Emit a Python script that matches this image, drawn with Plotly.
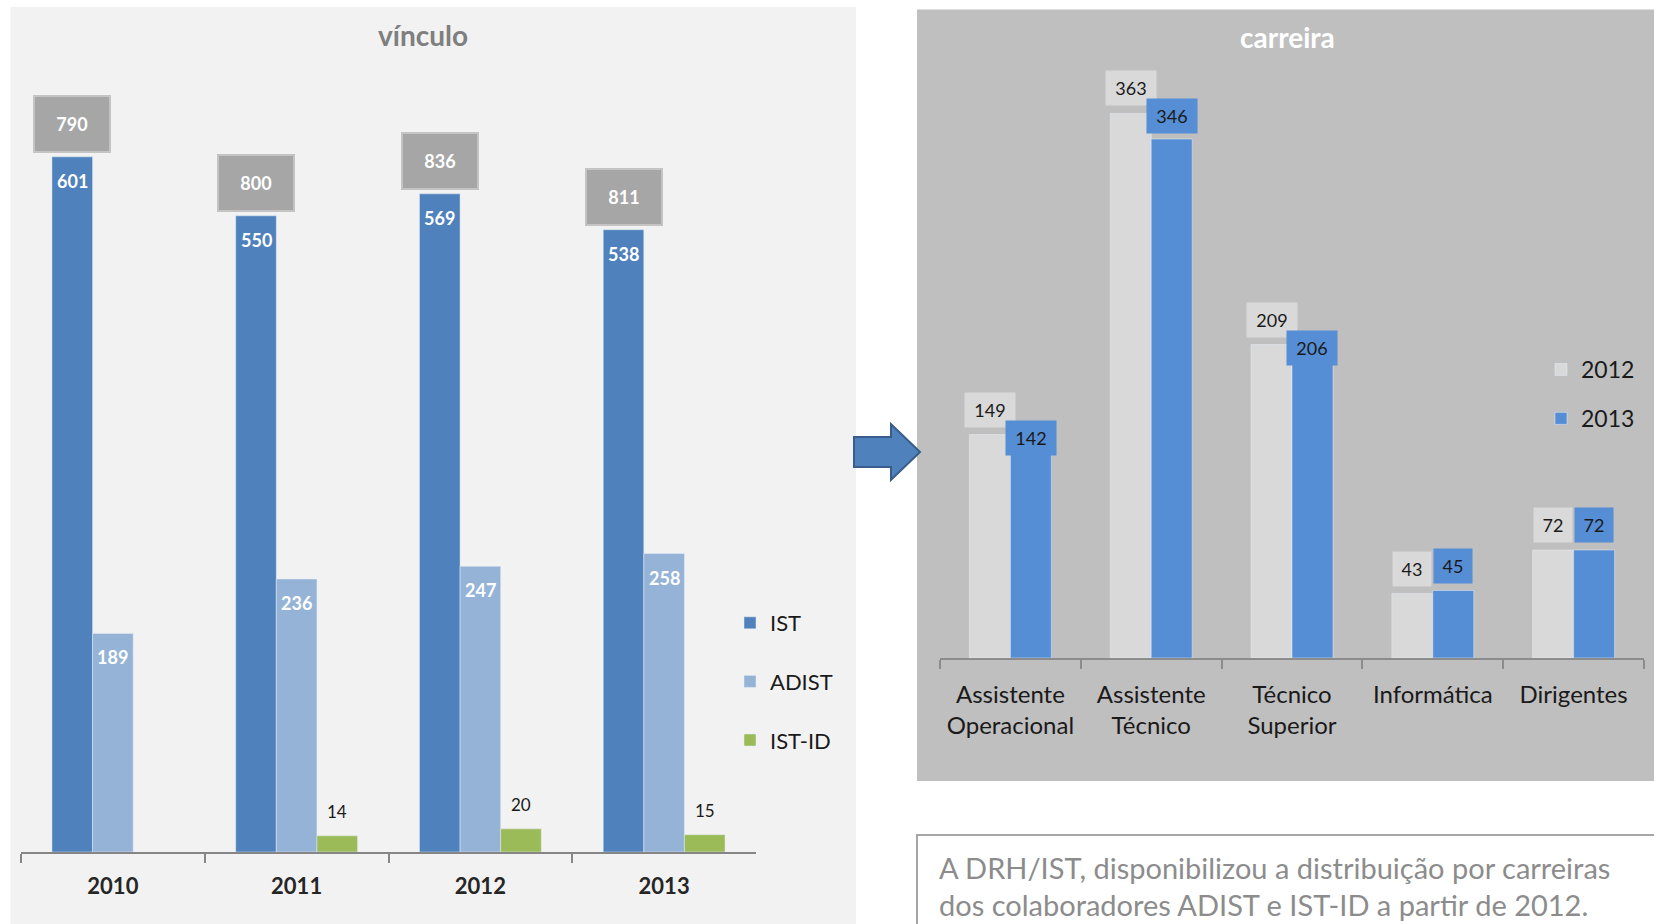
import plotly.graph_objects as go

W, H = 1654, 924

# ---------------- data ----------------
years = ["2010", "2011", "2012", "2013"]
ist = [601, 550, 569, 538]
adist = [189, 236, 247, 258]
istid = [None, 14, 20, 15]
totals = [790, 800, 836, 811]

carreiras = ["Assistente<br>Operacional", "Assistente<br>Técnico", "Técnico<br>Superior",
             "Informática", "Dirigentes"]
c2012 = [149, 363, 209, 43, 72]
c2013 = [142, 346, 206, 45, 72]

# ---------------- helpers / style ----------------
def px(x):
    return x / W


def py(y):
    return 1 - y / H


FONT = "Lato, 'Open Sans', sans-serif"
C_IST, C_ADIST, C_ISTID = "#4f81bd", "#95b3d7", "#9bbb59"
C_12, C_13 = "#d9d9d9", "#558ed5"

wl = 0.221  # bar width (category units) left chart
wr = 0.291  # bar width right chart

# right axis geometry (pixels) used for label collision nudging
R_BASE, R_TOP, R_MAX = 658, 40, 412
R_SCALE = (R_BASE - R_TOP) / R_MAX
LBL_GAP, LBL_H = 7, 34

fig = go.Figure()

# left chart bars
fig.add_trace(go.Bar(x=years, y=ist, name="IST", marker_color=C_IST, width=wl, offset=-1.5 * wl,
                     xaxis="x", yaxis="y", legend="legend", legendgroup="a", hoverinfo="y"))
fig.add_trace(go.Bar(x=years, y=adist, name="ADIST", marker_color=C_ADIST, width=wl, offset=-0.5 * wl,
                     xaxis="x", yaxis="y", legend="legend", legendgroup="b", hoverinfo="y"))
fig.add_trace(go.Bar(x=years, y=istid, name="IST-ID", marker_color=C_ISTID, width=wl, offset=0.5 * wl,
                     xaxis="x", yaxis="y", legend="legend", legendgroup="c", hoverinfo="y"))

# right chart bars
fig.add_trace(go.Bar(x=carreiras, y=c2012, name="2012", marker_color=C_12, width=wr, offset=-wr,
                     xaxis="x2", yaxis="y2", legend="legend2", legendgroup="d", hoverinfo="y"))
fig.add_trace(go.Bar(x=carreiras, y=c2013, name="2013", marker_color=C_13, width=wr, offset=0,
                     xaxis="x2", yaxis="y2", legend="legend2", legendgroup="e", hoverinfo="y"))

ann = []
# left labels
for i, v in enumerate(ist):
    ann.append(dict(x=i - wl, y=v, xref="x", yref="y", text=f"<b>{v}</b>", showarrow=False,
                    yanchor="middle", yshift=-24, font=dict(family=FONT, size=18, color="white")))
    ann.append(dict(x=i - wl, y=v, xref="x", yref="y", text=f"<b>{totals[i]}</b>", showarrow=False,
                    yanchor="bottom", yshift=4, width=72, height=52, bgcolor="#a6a6a6",
                    bordercolor="#c4c4c4", borderwidth=2,
                    font=dict(family=FONT, size=18, color="white")))
for i, v in enumerate(adist):
    ann.append(dict(x=i, y=v, xref="x", yref="y", text=f"<b>{v}</b>", showarrow=False,
                    yanchor="middle", yshift=-24, font=dict(family=FONT, size=18, color="white")))
for i, v in enumerate(istid):
    if v is None:
        continue
    ann.append(dict(x=i + wl, y=v, xref="x", yref="y", text=f"{v}", showarrow=False,
                    yanchor="middle", yshift=24, font=dict(family=FONT, size=17, color="#1a1a1a")))

# right labels
for i, v in enumerate(c2012):
    s = str(v)
    ann.append(dict(x=i - wr / 2, y=v, xref="x2", yref="y2", text=s, showarrow=False,
                    yanchor="bottom", yshift=LBL_GAP, bgcolor=C_12, borderpad=3,
                    width=12 * len(s) + 8, height=28,
                    font=dict(family=FONT, size=18, color="#1a1a1a")))
for i, v in enumerate(c2013):
    s = str(v)
    shift = LBL_GAP
    if v < c2012[i]:
        # nudge label down so it does not sit on top of the neighbouring 2012 label
        own_top = v * R_SCALE + LBL_GAP + LBL_H
        other_bottom = c2012[i] * R_SCALE + LBL_GAP
        limit = other_bottom + 6
        if own_top > limit:
            shift -= own_top - limit
    ann.append(dict(x=i + wr / 2, y=v, xref="x2", yref="y2", text=s, showarrow=False,
                    yanchor="bottom", yshift=shift, bgcolor=C_13, borderpad=3,
                    width=12 * len(s) + 8, height=28,
                    font=dict(family=FONT, size=18, color="#1a1a1a")))

# titles
ann.append(dict(x=px(423), y=py(35), xref="paper", yref="paper", text="<b>vínculo</b>", showarrow=False,
                xanchor="center", yanchor="middle", font=dict(family=FONT, size=28, color="#7f7f7f")))
ann.append(dict(x=px(1287), y=py(37), xref="paper", yref="paper", text="<b>carreira</b>", showarrow=False,
                xanchor="center", yanchor="middle", font=dict(family=FONT, size=28, color="white")))
# note text
ann.append(dict(x=px(937), y=py(867), xref="paper", yref="paper",
                text="A DRH/IST, disponibilizou a distribuição por carreiras", showarrow=False,
                xanchor="left", yanchor="middle", font=dict(family=FONT, size=29, color="#8c8c8c")))
ann.append(dict(x=px(937), y=py(904), xref="paper", yref="paper",
                text="dos colaboradores ADIST e IST-ID a partir de 2012.", showarrow=False,
                xanchor="left", yanchor="middle", font=dict(family=FONT, size=29, color="#8c8c8c")))

shapes = [
    dict(type="rect", xref="paper", yref="paper", x0=px(10.5), x1=px(856), y0=-0.02, y1=py(7),
         fillcolor="#f2f2f2", line_width=0, layer="below"),
    dict(type="rect", xref="paper", yref="paper", x0=px(917), x1=1.02, y0=py(781), y1=py(9.5),
         fillcolor="#bfbfbf", line_width=0, layer="below"),
    dict(type="rect", xref="paper", yref="paper", x0=px(917), x1=1.02, y0=-0.02, y1=py(835),
         fillcolor="white", line=dict(color="#a6a6a6", width=2), layer="below"),
]
arrow_pts = [(854, 437), (891, 437), (891, 424), (920, 452), (891, 480), (891, 467), (854, 467)]
path = "M " + " L ".join(f"{px(x):.5f},{py(y):.5f}" for x, y in arrow_pts) + " Z"
shapes.append(dict(type="path", xref="paper", yref="paper", path=path, fillcolor="#4f81bd",
                   line=dict(color="#385d8a", width=2)))

fig.update_layout(
    width=W, height=H, autosize=False,
    margin=dict(l=0, r=0, t=0, b=0),
    paper_bgcolor="white", plot_bgcolor="rgba(0,0,0,0)",
    barmode="overlay",
    font=dict(family=FONT),
    xaxis=dict(domain=[px(21), px(756)], range=[-0.5, 3.5], type="category", anchor="y",
               showline=True, linecolor="#868686", linewidth=2, ticks="outside", tickson="boundaries",
               ticklen=9, tickcolor="#868686", tickwidth=2, showgrid=False, ticklabelstandoff=14,
               tickfont=dict(family=FONT, size=22, color="#262626"),
               tickvals=years, ticktext=[f"<b>{y}</b>" for y in years]),
    yaxis=dict(domain=[py(852), py(40)], range=[0, 702], anchor="x", visible=False, showgrid=False),
    xaxis2=dict(domain=[px(940), px(1644)], range=[-0.5, 4.5], type="category", anchor="y2",
                showline=True, linecolor="#8c8c8c", linewidth=2, ticks="outside", tickson="boundaries",
                ticklen=9, tickcolor="#8c8c8c", tickwidth=2, showgrid=False, ticklabelstandoff=14,
                tickfont=dict(family=FONT, size=24, color="#1a1a1a")),
    yaxis2=dict(domain=[py(R_BASE), py(R_TOP)], range=[0, R_MAX], anchor="x2", visible=False,
                showgrid=False),
    legend=dict(x=px(730), y=py(602), xanchor="left", yanchor="top", bgcolor="rgba(0,0,0,0)",
                font=dict(family=FONT, size=22, color="#1a1a1a"), tracegroupgap=27, traceorder="grouped"),
    legend2=dict(x=px(1541), y=py(348), xanchor="left", yanchor="top", bgcolor="rgba(0,0,0,0)",
                 font=dict(family=FONT, size=23, color="#1a1a1a"), tracegroupgap=16, traceorder="grouped"),
    annotations=ann,
    shapes=shapes,
)

fig.write_html("out.html", post_script="document.body.style.margin='0px';",
               config={"displayModeBar": False})
